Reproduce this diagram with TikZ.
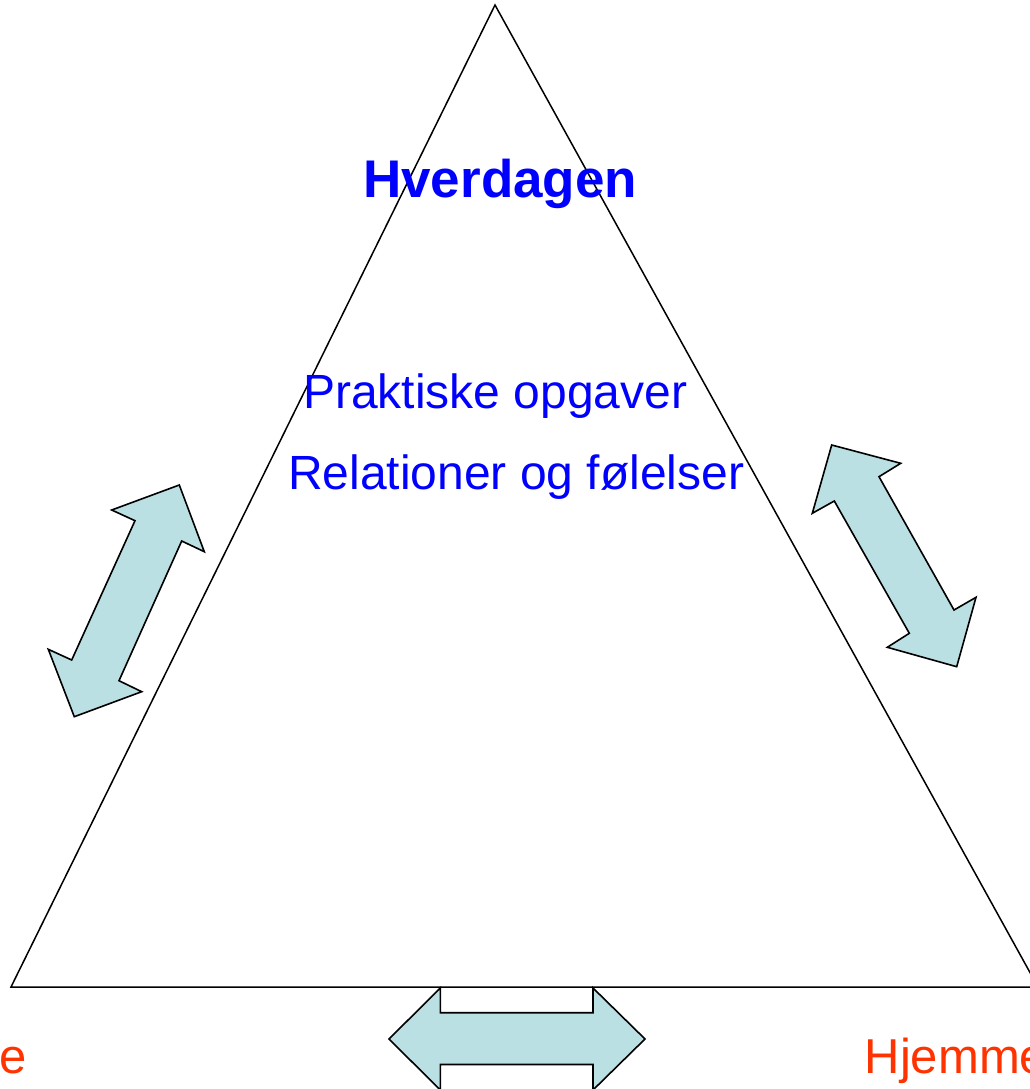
\documentclass[tikz,border=0pt]{standalone}
\usepackage{fontspec}
\setmainfont{Liberation Sans}
\definecolor{arrowfill}{RGB}{187,224,227}
\definecolor{textblue}{RGB}{0,0,255}
\definecolor{textred}{RGB}{255,51,0}
\tikzset{
  edgeline/.style={draw=black, line width=1.5pt, line join=miter},
  bigarrow/.style={draw=black, fill=arrowfill, line width=1.6pt, line join=miter},
  bluetext/.style={text=textblue, inner sep=0pt, anchor=base west, font=\fontsize{48}{58}\selectfont},
  redtext/.style={text=textred, inner sep=0pt, anchor=base west, font=\fontsize{49}{58}\selectfont}
}
\begin{document}
\begin{tikzpicture}[x=1pt, y=-1pt]
\useasboundingbox (0,0) rectangle (1029,1089);
\fill[white] (0,0) rectangle (1029,1089);
% triangle
\coordinate (apex) at (495,5);
\coordinate (bl) at (11,987);
\coordinate (br) at (1038,987);
\draw[edgeline] (apex) -- (bl) -- (br) -- cycle;
% left double arrow
\draw[bigarrow] (179.3,485) -- (204.3,551.7) -- (181.7,541) -- (119,680.7) -- (141.7,691.7)
  -- (74.3,716.7) -- (48.3,649.3) -- (71.7,660) -- (135,520.7) -- (111.7,510) -- cycle;
% right double arrow
\draw[bigarrow] (831.7,445) -- (900.7,463.3) -- (879,476.7) -- (954,610) -- (976,597.3)
  -- (956.7,666.7) -- (887.3,647.3) -- (909.3,633.3) -- (834.3,501) -- (812.3,513.3) -- cycle;
% bottom double arrow
\draw[bigarrow] (389,1039) -- (440.3,988) -- (440.3,1012.7) -- (593,1012.7) -- (593,988)
  -- (645,1039) -- (593,1090) -- (593,1064.5) -- (440.3,1064.5) -- (440.3,1090) -- cycle;
% texts
\node[bluetext, font=\bfseries\fontsize{53}{63}\selectfont] (hverdagen) at (363,197) {Hverdagen};
\node[bluetext] (praktiske) at (303,408.3) {Praktiske opgaver};
\node[bluetext] (relationer) at (288,489.5) {Relationer og følelser};
\node[redtext] (lefttext) at (-0.5,1073.3) {e};
\node[redtext] (hjemme) at (864.5,1073.3) {Hjemme};
\end{tikzpicture}
\end{document}
